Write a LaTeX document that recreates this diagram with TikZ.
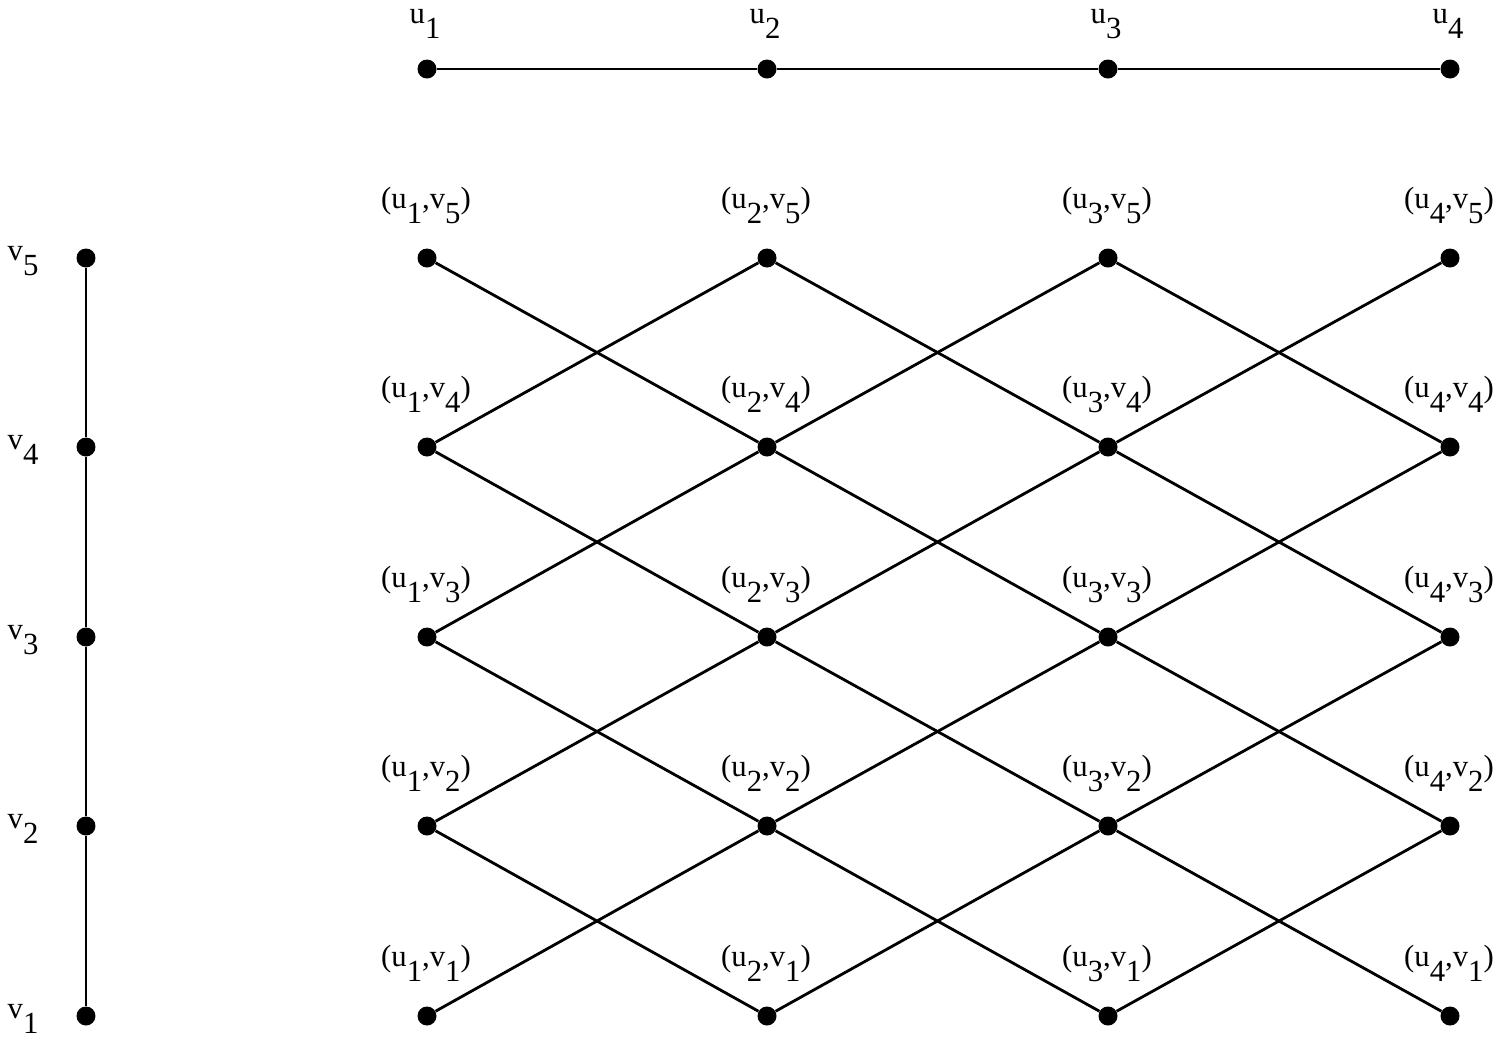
\documentclass[tikz,border=0pt]{standalone}
\usepackage{fontspec}
\setmainfont{Liberation Serif}
\newcommand{\lowsub}[1]{\raisebox{-0.5em}{#1}}
\begin{document}
\begin{tikzpicture}[x=0.02cm,y=-0.02cm,
  dot/.style={circle,fill=black,inner sep=0pt,minimum size=0.38cm},
  edge/.style={line width=1.6pt},
  lbl/.style={font=\fontsize{17.5}{20}\selectfont,inner sep=0pt,anchor=base}]
\useasboundingbox (0,0) rectangle (1497,1039);
% path u
\foreach \i/\x in {1/427,2/767,3/1108,4/1450}{
  \node[dot] (u\i) at (\x,69) {};
  \node[lbl] (lu\i) at (\x-2,23) {u\lowsub{\i}};
}
\draw[edge] (u1) -- (u2) -- (u3) -- (u4);
% path v
\foreach \j/\y in {1/1016,2/826,3/637,4/447,5/258}{
  \node[dot] (v\j) at (86,\y) {};
  \node[lbl] (lv\j) at (23,\y+2) {v\lowsub{\j}};
}
\draw[edge] (v1) -- (v2) -- (v3) -- (v4) -- (v5);
% product
\foreach \i/\x in {1/427,2/767,3/1108,4/1450}{
  \foreach \j/\y in {1/1016,2/826,3/637,4/447,5/258}{
    \node[dot] (g\i\j) at (\x,\y) {};
    \node[lbl] (lg\i\j) at (\x-1,\y-50) {(u\lowsub{\i},v\lowsub{\j})};
  }
}
\foreach \i in {1,2,3}{
  \foreach \j in {1,2,3,4}{
    \pgfmathtruncatemacro{\ni}{\i+1}
    \pgfmathtruncatemacro{\nj}{\j+1}
    \draw[edge] (g\i\j) -- (g\ni\nj);
    \draw[edge] (g\i\nj) -- (g\ni\j);
  }
}
\end{tikzpicture}
\end{document}
